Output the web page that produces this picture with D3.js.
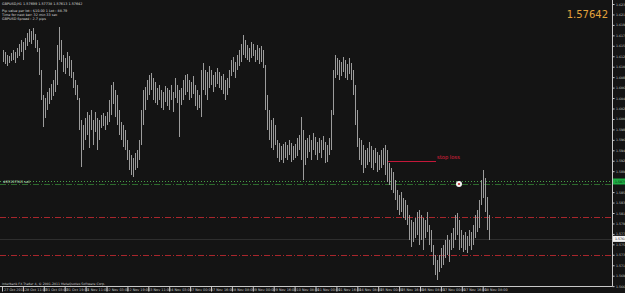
<!DOCTYPE html>
<html>
<head>
<meta charset="utf-8">
<script src="https://cdn.jsdelivr.net/npm/d3@7"></script>
<style>
  body { margin: 0; background: #141414; }
  svg { display: block; }
  text { font-family: "DejaVu Sans", sans-serif; }
</style>
</head>
<body>
<div id="chart"></div>
<script>
// GBPUSD H1 bars, high / low per bar
const highs = [
  1.6142,1.6138,1.6132,1.6130,1.6136,1.6142,1.6138,1.6146,1.6154,1.6162,
  1.6158,1.6166,1.6176,1.6184,1.6180,1.6186,1.6174,1.6162,1.6146,1.6102,
  1.6052,1.6046,1.6058,1.6066,1.6074,1.6082,1.6102,1.6152,1.6188,1.6162,
  1.6132,1.6126,1.6138,1.6130,1.6122,1.6098,1.6082,1.6072,1.6046,1.6002,
  1.5992,1.6006,1.6018,1.6012,1.6022,1.6002,1.6018,1.6006,1.6002,1.6012,
  1.6016,1.6010,1.6018,1.6042,1.6072,1.6078,1.6062,1.6052,1.6022,1.5998,
  1.5992,1.5982,1.5962,1.5942,1.5932,1.5926,1.5936,1.5942,1.5962,1.6022,
  1.6062,1.6068,1.6082,1.6092,1.6096,1.6086,1.6078,1.6066,1.6072,1.6062,
  1.6058,1.6070,1.6066,1.6062,1.6072,1.6058,1.6086,1.6072,1.6062,1.6066,
  1.6082,1.6092,1.6094,1.6082,1.6078,1.6090,1.6072,1.6062,1.6052,1.6102,
  1.6116,1.6102,1.6098,1.6110,1.6102,1.6092,1.6098,1.6106,1.6098,1.6090,
  1.6094,1.6082,1.6086,1.6102,1.6122,1.6128,1.6118,1.6132,1.6142,1.6154,
  1.6172,1.6162,1.6152,1.6146,1.6158,1.6154,1.6142,1.6152,1.6146,1.6150,
  1.6142,1.6112,1.6052,1.6022,1.6002,1.6006,1.5992,1.5962,1.5956,1.5950,
  1.5954,1.5958,1.5952,1.5962,1.5956,1.5950,1.5954,1.5966,1.5972,1.6008,
  1.5982,1.5962,1.5966,1.5972,1.5962,1.5976,1.5968,1.5958,1.5966,1.5962,
  1.5970,1.5958,1.5952,1.5966,1.6022,1.6102,1.6132,1.6126,1.6122,1.6118,
  1.6128,1.6122,1.6114,1.6126,1.6116,1.6102,1.6072,1.6022,1.5966,1.5962,
  1.5952,1.5942,1.5946,1.5958,1.5950,1.5942,1.5946,1.5938,1.5932,1.5942,
  1.5946,1.5952,1.5942,1.5916,1.5906,1.5898,1.5882,1.5862,1.5852,1.5858,
  1.5846,1.5842,1.5832,1.5812,1.5802,1.5798,1.5806,1.5818,1.5822,1.5812,
  1.5806,1.5802,1.5818,1.5792,1.5782,1.5752,1.5732,1.5722,1.5732,1.5746,
  1.5752,1.5762,1.5772,1.5762,1.5776,1.5786,1.5812,1.5816,1.5802,1.5782,
  1.5772,1.5778,1.5770,1.5782,1.5778,1.5792,1.5812,1.5822,1.5842,1.5882,
  1.5902,1.5886,1.5848,1.5812
];
const lows = [
  1.6118,1.6114,1.6110,1.6116,1.6120,1.6122,1.6116,1.6126,1.6130,1.6138,
  1.6122,1.6142,1.6150,1.6158,1.6154,1.6162,1.6146,1.6138,1.6092,1.6042,
  1.5988,1.6006,1.6022,1.6034,1.6042,1.6050,1.6058,1.6072,1.6122,1.6118,
  1.6098,1.6094,1.6106,1.6090,1.6086,1.6066,1.6052,1.6042,1.5982,1.5908,
  1.5942,1.5962,1.5972,1.5946,1.5982,1.5952,1.5978,1.5942,1.5962,1.5986,
  1.5990,1.5982,1.5992,1.5998,1.6012,1.6034,1.6008,1.5992,1.5972,1.5962,
  1.5948,1.5942,1.5922,1.5902,1.5892,1.5888,1.5902,1.5906,1.5922,1.5952,
  1.5992,1.6022,1.6042,1.6052,1.6062,1.6042,1.6036,1.6032,1.6042,1.6026,
  1.6022,1.6038,1.6030,1.6022,1.6042,1.6018,1.6046,1.6036,1.5968,1.6032,
  1.6042,1.6052,1.6058,1.6042,1.6046,1.6054,1.6030,1.6022,1.6026,1.6008,
  1.6062,1.6052,1.6042,1.6066,1.6072,1.6058,1.6068,1.6074,1.6066,1.6062,
  1.6054,1.6042,1.6052,1.6066,1.6090,1.6098,1.6086,1.6102,1.6110,1.6118,
  1.6132,1.6126,1.6122,1.6118,1.6126,1.6130,1.6118,1.6122,1.6114,1.6118,
  1.6106,1.6022,1.5982,1.5962,1.5946,1.5942,1.5952,1.5926,1.5918,1.5922,
  1.5916,1.5926,1.5922,1.5932,1.5918,1.5922,1.5926,1.5930,1.5942,1.5922,
  1.5882,1.5912,1.5926,1.5938,1.5922,1.5942,1.5932,1.5922,1.5936,1.5926,
  1.5942,1.5916,1.5918,1.5932,1.5942,1.6012,1.6086,1.6092,1.6082,1.6090,
  1.6098,1.6086,1.6082,1.6094,1.6082,1.6052,1.5992,1.5948,1.5922,1.5912,
  1.5896,1.5906,1.5912,1.5918,1.5906,1.5902,1.5916,1.5898,1.5902,1.5906,
  1.5912,1.5892,1.5878,1.5872,1.5862,1.5856,1.5842,1.5822,1.5812,1.5818,
  1.5806,1.5802,1.5792,1.5762,1.5748,1.5758,1.5766,1.5772,1.5752,1.5762,
  1.5742,1.5766,1.5778,1.5752,1.5738,1.5712,1.5692,1.5682,1.5698,1.5706,
  1.5712,1.5726,1.5732,1.5718,1.5742,1.5746,1.5762,1.5772,1.5742,1.5746,
  1.5738,1.5742,1.5736,1.5750,1.5742,1.5752,1.5766,1.5778,1.5786,1.5832,
  1.5846,1.5818,1.5782,1.5762
];

const priceTicks = [
  1.62340,1.62131,1.61922,1.61713,1.61504,1.61295,1.61086,1.60877,1.60668,1.60459,
  1.60250,1.60041,1.59832,1.59623,1.59414,1.59205,1.58996,1.58787,1.58578,1.58369,
  1.58160,1.57951,1.57742,1.57533,1.57324,1.57115,1.56906,1.56697
];

const timeLabels = [
  '27 Oct 2011','28 Oct 11:00','31 Oct 03:00','31 Oct 19:00','1 Nov 11:00','2 Nov 03:00',
  '2 Nov 19:00','3 Nov 11:00','4 Nov 03:00','7 Nov 00:00','7 Nov 16:00','8 Nov 08:00',
  '9 Nov 00:00','9 Nov 16:00','10 Nov 08:00','11 Nov 00:00','11 Nov 16:00','14 Nov 08:00',
  '15 Nov 00:00','15 Nov 16:00','16 Nov 08:00','17 Nov 00:00','17 Nov 16:00','18 Nov 08:00'
];
const BARS_PER_LABEL = 10.45;

const currentPrice = 1.57642;
const orderPrice = 1.5879;
const orderLabel = '#65197543 sell';
const askPrice = 1.5874;
const levelPrices = [1.5808, 1.5732];
const stopLossPrice = 1.5920;
const stopLossBars = [192.5, 216.5];
const markerBar = 228;

const headerLines = [
  'GBPUSD,H1  1.57699 1.57738 1.57613 1.57642',
  'Pip value per lot : $10.00   1 Lot : 88.79',
  'Time for next bar: 32 min 33 sec',
  'GBPUSD Spread : 2.7 pips'
];
const copyright = 'Interbank FX Trader 4, \u00a9 2001-2011 MetaQuotes Software Corp.';

const W = 625, H = 293;
const AXIS_X = 612, AXIS_Y = 286;

const svg = d3.select('#chart').append('svg').attr('width', W).attr('height', H);
svg.append('rect').attr('width', W).attr('height', H).attr('fill', '#141414');

const x = d3.scaleLinear().domain([0, highs.length - 1]).range([3, 489]);
const y = d3.scaleLinear().domain([1.5670, 1.6242]).range([AXIS_Y, 0]);
const py = p => Math.round(y(p)) + 0.5;

// horizontal order / level lines
svg.append('line').attr('x1', 0).attr('x2', AXIS_X)
  .attr('y1', py(currentPrice)).attr('y2', py(currentPrice))
  .attr('stroke', '#2e2e2e').attr('stroke-width', 1);

svg.selectAll('.level').data(levelPrices).enter().append('line')
  .attr('x1', 0).attr('x2', AXIS_X)
  .attr('y1', d => py(d)).attr('y2', d => py(d))
  .attr('stroke', '#a8262c').attr('stroke-dasharray', '6,2,1,2');

svg.append('line').attr('x1', 0).attr('x2', AXIS_X)
  .attr('y1', py(orderPrice)).attr('y2', py(orderPrice))
  .attr('stroke', '#47a047').attr('stroke-dasharray', '1,2');
svg.append('line').attr('x1', 0).attr('x2', AXIS_X)
  .attr('y1', py(askPrice)).attr('y2', py(askPrice))
  .attr('stroke', '#2d6a2d').attr('stroke-dasharray', '6,2,1,2');

svg.append('text').attr('x', 3).attr('y', y(orderPrice) + 1.2)
  .style('font-size', '3.4px').attr('fill', '#cfe8cf').text(orderLabel);

// bars
svg.append('g').selectAll('line').data(highs).enter().append('line')
  .attr('x1', (d, i) => Math.round(x(i)) + 0.5)
  .attr('x2', (d, i) => Math.round(x(i)) + 0.5)
  .attr('y1', d => y(d))
  .attr('y2', (d, i) => y(lows[i]))
  .attr('stroke', '#9c9c9c').attr('stroke-width', 1);

// stop loss annotation
svg.append('line')
  .attr('x1', x(stopLossBars[0])).attr('x2', x(stopLossBars[1]))
  .attr('y1', py(stopLossPrice)).attr('y2', py(stopLossPrice))
  .attr('stroke', '#c4183a').attr('stroke-width', 1);
svg.append('text').attr('x', x(stopLossBars[1]) + 1).attr('y', y(stopLossPrice) - 2.5)
  .style('font-size', '5.2px').attr('fill', '#e0203f').text('stop loss');

svg.append('circle').attr('cx', x(markerBar)).attr('cy', y(askPrice)).attr('r', 3)
  .attr('fill', '#f4f4f4');
svg.append('circle').attr('cx', x(markerBar)).attr('cy', y(askPrice)).attr('r', 1.1)
  .attr('fill', '#c02a2a');

// frame
svg.append('line').attr('x1', AXIS_X + 0.5).attr('x2', AXIS_X + 0.5).attr('y1', 0).attr('y2', AXIS_Y + 0.5)
  .attr('stroke', '#c8c8c8');
svg.append('line').attr('x1', 0).attr('x2', AXIS_X + 0.5).attr('y1', AXIS_Y + 0.5).attr('y2', AXIS_Y + 0.5)
  .attr('stroke', '#c8c8c8');

// price axis
const yAxis = svg.append('g').attr('transform', `translate(${AXIS_X + 0.5},0)`)
  .call(d3.axisRight(y).tickValues(priceTicks).tickFormat(d3.format('.5f')).tickSize(2).tickSizeOuter(0).tickPadding(1.5));
yAxis.select('.domain').remove();
yAxis.selectAll('line').attr('stroke', '#c8c8c8');
yAxis.selectAll('text').attr('fill', '#c8c8c8').style('font-size', '3.2px').style('font-family', '"DejaVu Sans", sans-serif');

function priceBox(price, label, bg, fg) {
  const g = svg.append('g').attr('transform', `translate(${AXIS_X + 1},${y(price)})`);
  g.append('rect').attr('x', 0).attr('y', -3).attr('width', 13).attr('height', 6).attr('fill', bg);
  g.append('text').attr('x', 2).attr('y', 1.2).style('font-size', '3.2px').attr('fill', fg).text(label);
}
priceBox(orderPrice, d3.format('.5f')(orderPrice), '#1fae45', '#0b1a0b');
priceBox(currentPrice, d3.format('.5f')(currentPrice), '#f2f2f2', '#111');

// time axis
const xAxis = svg.append('g').attr('transform', `translate(0,${AXIS_Y + 0.5})`)
  .call(d3.axisBottom(x).tickValues(timeLabels.map((_, i) => i * BARS_PER_LABEL - 0.5))
    .tickFormat((d, i) => timeLabels[i]).tickSize(5).tickSizeOuter(0).tickPadding(0));
xAxis.select('.domain').remove();
xAxis.selectAll('line').attr('stroke', '#c8c8c8');
xAxis.selectAll('text').attr('fill', '#c8c8c8').attr('text-anchor', 'start')
  .attr('x', 1.5).attr('y', 2).attr('dy', '0.71em')
  .style('font-size', '3.4px').style('font-family', '"DejaVu Sans", sans-serif');

// header and current price
svg.selectAll('.hdr').data(headerLines).enter().append('text')
  .attr('x', 2).attr('y', (d, i) => i === 0 ? 4.5 : 7.8 + i * 4)
  .style('font-size', '3.4px').attr('fill', '#dcdcdc').text(d => d);

svg.append('text').attr('x', 608).attr('y', 18).attr('text-anchor', 'end')
  .style('font-size', '10px').attr('fill', '#e3a23c').text(d3.format('.5f')(currentPrice));

svg.append('text').attr('x', 2).attr('y', 284.5)
  .style('font-size', '3.2px').attr('fill', '#c8c8c8').text(copyright);
</script>
</body>
</html>
